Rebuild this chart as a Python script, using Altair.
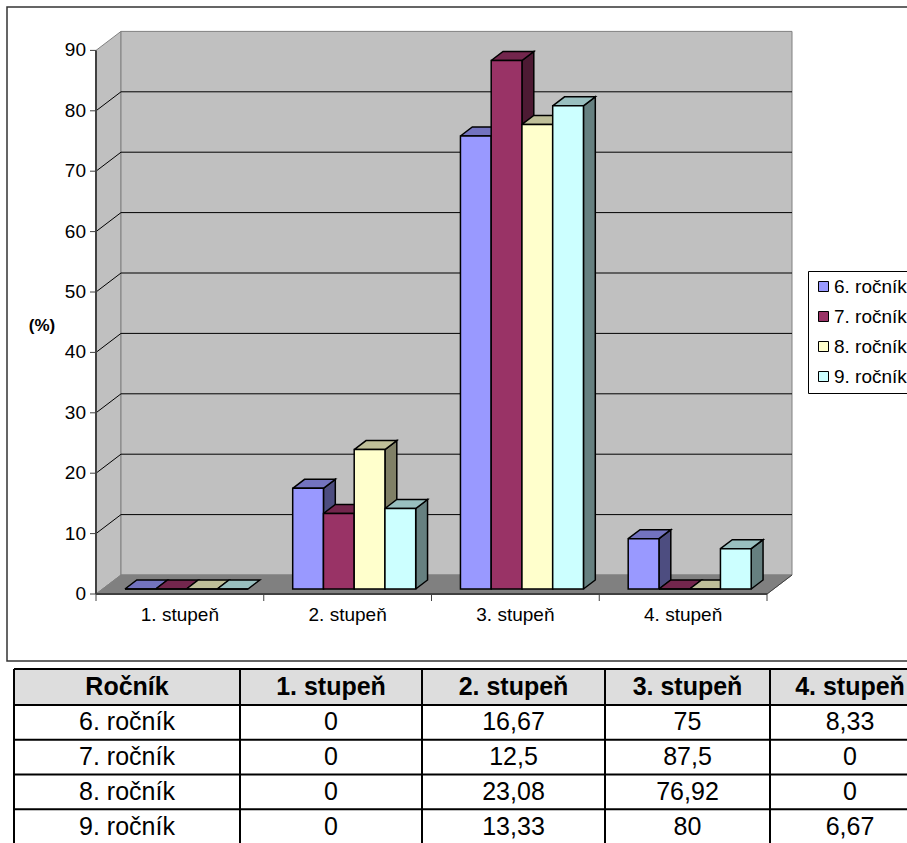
import altair as alt
import pandas as pd

# ---------------- data ----------------
categories = ["1. stupeň", "2. stupeň", "3. stupeň", "4. stupeň"]
grades = ["6. ročník", "7. ročník", "8. ročník", "9. ročník"]
grade_6 = [0, 16.67, 75, 8.33]
grade_7 = [0, 12.5, 87.5, 0]
grade_8 = [0, 23.08, 76.92, 0]
grade_9 = [0, 13.33, 80, 6.67]
y_ticks = [0, 10, 20, 30, 40, 50, 60, 70, 80, 90]
y_title = "(%)"
table_corner = "Ročník"

series_values = [grade_6, grade_7, grade_8, grade_9]

# ---------------- style / layout ----------------
FONT = "Arial"
FRONT = ["#9999FF", "#993366", "#FFFFCC", "#CCFFFF"]
TOP = ["#7373BF", "#73264D", "#BFBF99", "#99BFBF"]
SIDE = ["#4D4D80", "#4D1A33", "#808066", "#668080"]
WALL, FLOOR, EDGE, AXIS = "#C0C0C0", "#808080", "#808080", "#404040"

W, H = 907, 843
PX_LEFT, PX_RIGHT = 96, 767      # front edge of the floor
PX_ZERO, PX_TOP = 594, 50.4      # front-plane pixel rows of 0 and of the top tick
DEPTH_PX = (25, 19)              # oblique depth offset of the 3-D box

n_cat = len(categories)
y_max = y_ticks[-1]
px_per_cat = (PX_RIGHT - PX_LEFT) / n_cat
px_per_val = (PX_ZERO - PX_TOP) / y_max
DX = DEPTH_PX[0] / px_per_cat    # depth in category units
DY = DEPTH_PX[1] / px_per_val    # depth in value units
BAR_W = 0.1833                   # bar width in category units
GAP = (1 - len(grades) * BAR_W) / 2
F0, F1 = 0.263, 0.737            # bars sit between these depth fractions
BX, BY = (F1 - F0) * DX, (F1 - F0) * DY

xs = alt.Scale(domain=[0, n_cat], range=[PX_LEFT, PX_RIGHT], nice=False, zero=False)
ys = alt.Scale(domain=[0, y_max], range=[PX_ZERO, PX_TOP], nice=False, zero=False)
X = lambda f: alt.X(f, scale=xs, axis=None)
Y = lambda f: alt.Y(f, scale=ys, axis=None)


def add_poly(rows, pid, pts, fill, stroke):
    for k, (x, y) in enumerate(pts + [pts[0]]):
        rows.append(dict(pid=pid, k=k, x=x, y=y, fill=fill, stroke=stroke))


def polygon_layer(df, width):
    return alt.Chart(df).mark_line(strokeWidth=width, strokeJoin="miter").encode(
        x=X("x:Q"),
        y=Y("y:Q"),
        detail="pid:N",
        order="k:Q",
        fill=alt.Fill("fill:N", scale=None),
        stroke=alt.Stroke("stroke:N", scale=None),
    )


# ---- walls and floor ----
wall_rows = []
add_poly(wall_rows, 0, [(0, 0), (DX, DY), (DX, y_max + DY), (0, y_max)], WALL, EDGE)
add_poly(wall_rows, 1, [(DX, DY), (n_cat + DX, DY), (n_cat + DX, y_max + DY), (DX, y_max + DY)], WALL, EDGE)
add_poly(wall_rows, 2, [(0, 0), (n_cat, 0), (n_cat + DX, DY), (DX, DY)], FLOOR, FLOOR)
walls = polygon_layer(pd.DataFrame(wall_rows), 1)

# ---- gridlines on back and side walls ----
grid_rows = []
for v in y_ticks[1:-1]:
    grid_rows.append(dict(x=DX, x2=n_cat + DX, y=v + DY, y2=v + DY))
    grid_rows.append(dict(x=0, x2=DX, y=v, y2=v + DY))
grid = alt.Chart(pd.DataFrame(grid_rows)).mark_rule(color="black", strokeWidth=1).encode(
    x=X("x:Q"), x2="x2:Q", y=Y("y:Q"), y2="y2:Q",
)

# ---- value axis ----
yt_df = pd.DataFrame(dict(x=[0] * len(y_ticks), y=y_ticks, label=[str(v) for v in y_ticks]))
y_ticks_marks = alt.Chart(yt_df).mark_rule(color=AXIS, strokeWidth=1, x2Offset=-6).encode(
    x=X("x:Q"), x2="x:Q", y=Y("y:Q"),
)
y_labels = alt.Chart(yt_df).mark_text(
    font=FONT, fontSize=19, color="black", align="right", baseline="middle", dx=-10
).encode(x=X("x:Q"), y=Y("y:Q"), text="label:N")
y_domain = alt.Chart(pd.DataFrame([dict(x=0, y=0, y2=y_max)])).mark_rule(
    color=AXIS, strokeWidth=2
).encode(x=X("x:Q"), y=Y("y:Q"), y2="y2:Q")
y_title_mark = alt.Chart(pd.DataFrame(dict(t=[y_title]))).mark_text(
    font=FONT, fontSize=17, fontWeight="bold", color="black", align="center", baseline="middle"
).encode(x=alt.value(42), y=alt.value(326), text="t:N")

# ---- category axis: floor edges, ticks and labels ----
edge_df = pd.DataFrame([
    dict(x=0, x2=n_cat, y=0, y2=0, w=2),
    dict(x=n_cat, x2=n_cat + DX, y=0, y2=DY, w=1),
])
edges = alt.Chart(edge_df).mark_rule(color=AXIS).encode(
    x=X("x:Q"), x2="x2:Q", y=Y("y:Q"), y2="y2:Q",
    strokeWidth=alt.StrokeWidth("w:Q", scale=None),
)
tick_df = pd.DataFrame(dict(x=list(range(n_cat + 1)), y=[0] * (n_cat + 1)))
x_ticks = alt.Chart(tick_df).mark_rule(color=AXIS, strokeWidth=1, y2Offset=7).encode(
    x=X("x:Q"), y=Y("y:Q"), y2="y:Q",
)
cat_df = pd.DataFrame(dict(x=[i + 0.5 for i in range(n_cat)], y=[0] * n_cat, label=categories))
cat_labels = alt.Chart(cat_df).mark_text(
    font=FONT, fontSize=19, color="black", align="center", baseline="middle", dy=21
).encode(x=X("x:Q"), y=Y("y:Q"), text="label:N")

# ---- 3-D bars ----
side_rows, top_rows, front_rows = [], [], []
pid = 0
for i in range(n_cat):
    for j, vals in enumerate(series_values):
        v = vals[i]
        u = i + GAP + j * BAR_W + F0 * DX
        base = F0 * DY
        top = base + v
        front_rows.append(dict(grade=grades[j], x=u, x2=u + BAR_W, y=base, y2=top))
        add_poly(top_rows, pid,
                 [(u, top), (u + BAR_W, top), (u + BAR_W + BX, top + BY), (u + BX, top + BY)],
                 TOP[j], "black")
        if v > 0:
            add_poly(side_rows, pid,
                     [(u + BAR_W, base), (u + BAR_W + BX, base + BY),
                      (u + BAR_W + BX, top + BY), (u + BAR_W, top)],
                     SIDE[j], "black")
        pid += 1

sides = polygon_layer(pd.DataFrame(side_rows), 1.5)
tops = polygon_layer(pd.DataFrame(top_rows), 1.5)
fronts = alt.Chart(pd.DataFrame(front_rows)).mark_rect(stroke="black", strokeWidth=1.5).encode(
    x=X("x:Q"), x2="x2:Q", y=Y("y:Q"), y2="y2:Q",
    color=alt.Color(
        "grade:N",
        scale=alt.Scale(domain=grades, range=FRONT),
        legend=alt.Legend(
            orient="none", legendX=808, legendY=271, title=None,
            symbolType="square", symbolSize=100, symbolStrokeColor="black",
            symbolStrokeWidth=1, symbolOpacity=1,
            labelFont=FONT, labelFontSize=19, labelColor="black", labelOffset=1,
            rowPadding=10, padding=6, strokeColor="black", fillColor="white",
        ),
    ),
)

chart_main = alt.layer(
    walls, grid, edges, x_ticks, sides, tops, fronts, cat_labels,
    y_domain, y_ticks_marks, y_labels, y_title_mark,
)

# ---- chart frame ----
frame = alt.Chart(pd.DataFrame({"a": [0]})).mark_rect(
    filled=False, stroke="#333333", strokeWidth=1.5
).encode(x=alt.value(7), x2=alt.value(W + 20), y=alt.value(7), y2=alt.value(661))

# ---------------- data table ----------------
COL_EDGES = [14, 240, 422, 605, 770, 930]
ROW_EDGES = [669, 705, 844]
n_cols = len(categories) + 1
n_rows = len(grades) + 1
tx = alt.Scale(domain=list(range(n_cols + 1)), range=COL_EDGES, nice=False, zero=False)
ty = alt.Scale(domain=[0, 1, n_rows], range=ROW_EDGES, nice=False, zero=False)
TX = lambda f: alt.X(f, scale=tx, axis=None)
TY = lambda f: alt.Y(f, scale=ty, axis=None)


def fmt(v):
    return f"{v:g}".replace(".", ",")


header_df = pd.DataFrame(dict(
    c=[c + 0.5 for c in range(n_cols)], r=[0.5] * n_cols,
    text=[table_corner] + categories,
))
body_rows = []
for j, g in enumerate(grades):
    cells = [g] + [fmt(v) for v in series_values[j]]
    for c, t in enumerate(cells):
        body_rows.append(dict(c=c + 0.5, r=j + 1.5, text=t))
body_df = pd.DataFrame(body_rows)

header_bg = alt.Chart(pd.DataFrame([dict(c=0, c2=n_cols, r=0, r2=1)])).mark_rect(
    color="#DDDDDD"
).encode(x=TX("c:Q"), x2="c2:Q", y=TY("r:Q"), y2="r2:Q")
line_rows = [dict(c=0, c2=n_cols, r=r, r2=r) for r in range(n_rows + 1)]
line_rows += [dict(c=c, c2=c, r=0, r2=n_rows) for c in range(n_cols + 1)]
table_lines = alt.Chart(pd.DataFrame(line_rows)).mark_rule(color="black", strokeWidth=2).encode(
    x=TX("c:Q"), x2="c2:Q", y=TY("r:Q"), y2="r2:Q",
)
header_text = alt.Chart(header_df).mark_text(
    font=FONT, fontSize=25, fontWeight="bold", color="black", baseline="middle", align="center"
).encode(x=TX("c:Q"), y=TY("r:Q"), text="text:N")
body_text = alt.Chart(body_df).mark_text(
    font=FONT, fontSize=25, color="black", baseline="middle", align="center"
).encode(x=TX("c:Q"), y=TY("r:Q"), text="text:N")
table = alt.layer(header_bg, table_lines, header_text, body_text)

chart = alt.layer(chart_main, frame, table).resolve_scale(
    x="independent", y="independent"
).properties(
    width=W, height=H, padding=0, autosize=alt.AutoSizeParams(type="none"),
    background="white",
).configure_view(stroke=None)

chart.save("out.html", embed_options={"renderer": "svg", "actions": False})
